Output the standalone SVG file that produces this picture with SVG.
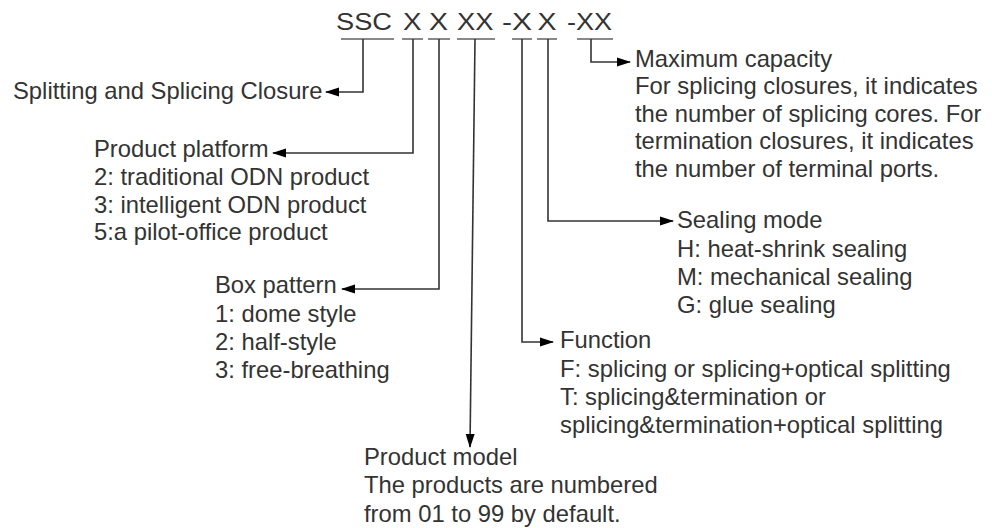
<svg xmlns="http://www.w3.org/2000/svg" width="992" height="528" viewBox="0 0 992 528">
<style>
text{font-family:"Liberation Sans",Arial,sans-serif;fill:#333;}
.b{font-size:23.8px;}
.h{font-size:23px;}
.ul{stroke:#888;stroke-width:2.2;fill:none;}
.c{stroke:#333;stroke-width:1.6;fill:none;marker-end:url(#ah);}
</style>
<defs>
<marker id="ah" viewBox="0 0 14 10" refX="13" refY="5" markerWidth="14" markerHeight="10" orient="auto" markerUnits="userSpaceOnUse">
<path d="M0,0.5 L14,5 L0,9.5 z" fill="#000"/>
</marker>
</defs>
<rect width="992" height="528" fill="#fff"/>
<g id="code">
<text class="h" x="336" y="29.5" textLength="56" lengthAdjust="spacingAndGlyphs">SSC</text>
<text class="h" x="403" y="29.5" textLength="18.5" lengthAdjust="spacingAndGlyphs">X</text>
<text class="h" x="429" y="29.5" textLength="19" lengthAdjust="spacingAndGlyphs">X</text>
<text class="h" x="457" y="29.5" textLength="36.5" lengthAdjust="spacingAndGlyphs">XX</text>
<text class="h" x="502" y="29.5" textLength="30" lengthAdjust="spacingAndGlyphs">-X</text>
<text class="h" x="537.5" y="29.5" textLength="19" lengthAdjust="spacingAndGlyphs">X</text>
<text class="h" x="567" y="29.5" textLength="45" lengthAdjust="spacingAndGlyphs">-XX</text>
<path class="ul" d="M341,39 H394 M402,39 H423 M428,39 H450 M457,39 H495 M512,39 H532 M537,39 H557 M577,39 H613"/>
</g>
<g id="connectors">
<path class="c" d="M363,39 V92 H326"/>
<path class="c" d="M413,39 V153 H273"/>
<path class="c" d="M439,39 V289 H342"/>
<path class="c" d="M475,39 L470,447"/>
<path class="c" d="M522,39 V342 H553"/>
<path class="c" d="M548,39 V221 H673"/>
<path class="c" d="M591,39 V62 H630"/>
</g>
<g id="closure">
<text class="b" x="13" y="99">Splitting and Splicing Closure</text>
</g>
<g id="platform">
<text class="b" x="94" y="157">Product platform</text>
<text class="b" x="94" y="185">2: traditional ODN product</text>
<text class="b" x="94" y="213">3: intelligent ODN product</text>
<text class="b" x="94" y="240">5:a pilot-office product</text>
</g>
<g id="box">
<text class="b" x="215" y="293">Box pattern</text>
<text class="b" x="215" y="322">1: dome style</text>
<text class="b" x="215" y="350">2: half-style</text>
<text class="b" x="215" y="378">3: free-breathing</text>
</g>
<g id="model">
<text class="b" x="364" y="465">Product model</text>
<text class="b" x="364" y="493">The products are numbered</text>
<text class="b" x="364" y="522">from 01 to 99 by default.</text>
</g>
<g id="function">
<text class="b" x="560" y="348">Function</text>
<text class="b" x="560" y="377">F: splicing or splicing+optical splitting</text>
<text class="b" x="560" y="405">T: splicing&amp;termination or</text>
<text class="b" x="560" y="433">splicing&amp;termination+optical splitting</text>
</g>
<g id="sealing">
<text class="b" x="677" y="228">Sealing mode</text>
<text class="b" x="677" y="257">H: heat-shrink sealing</text>
<text class="b" x="677" y="285">M: mechanical sealing</text>
<text class="b" x="677" y="313">G: glue sealing</text>
</g>
<g id="capacity">
<text class="b" x="635" y="67">Maximum capacity</text>
<text class="b" x="635" y="94">For splicing closures, it indicates</text>
<text class="b" x="635" y="122">the number of splicing cores. For</text>
<text class="b" x="635" y="149">termination closures, it indicates</text>
<text class="b" x="635" y="177">the number of terminal ports.</text>
</g>
</svg>
